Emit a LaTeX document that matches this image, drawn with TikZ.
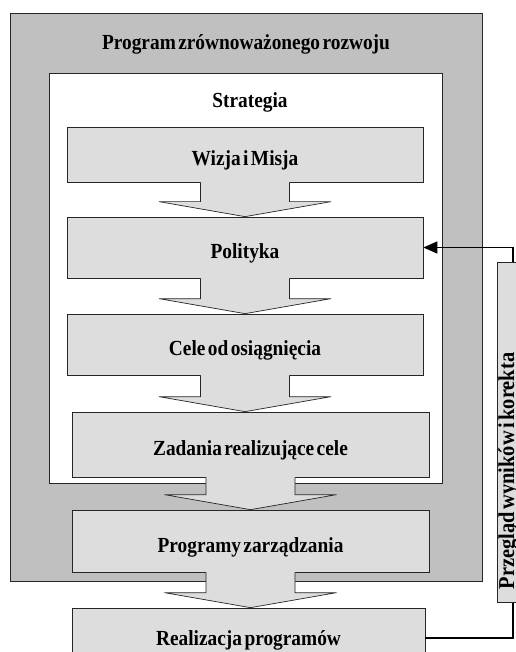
\documentclass[tikz,border=0pt]{standalone}
\usepackage{fontspec}
\setmainfont{Liberation Serif}[WordSpace=0.5, FakeStretch=0.9]
\usetikzlibrary{arrows.meta,calc}

\definecolor{ciemny}{HTML}{C0C0C0}
\definecolor{jasny}{HTML}{DDDDDD}

\tikzset{
	kontur/.style={draw=black!85, line width=0.7pt},
	napis/.style={font=\bfseries\fontsize{21.5}{22}\selectfont, inner sep=0pt},
	etap/.style={kontur, fill=jasny, napis, minimum width=356pt, text height=22pt, text depth=0pt},
}

% block arrow from the bottom of #1 to the top of #2
\newcommand{\strzalka}[2]{%
	\fill[jasny] let \p1=(#1.south), \p2=(#2.north) in
		(\x1-44.5pt,\y1+1pt) -- (\x1-44.5pt,\y2+15pt) -- (\x1-86pt,\y2+15pt) -- (\x1,\y2)
		-- (\x1+86pt,\y2+15pt) -- (\x1+44.5pt,\y2+15pt) -- (\x1+44.5pt,\y1+1pt) -- cycle;
	\draw[kontur] let \p1=(#1.south), \p2=(#2.north) in
		(\x1-44.5pt,\y1) -- (\x1-44.5pt,\y2+15pt) -- (\x1-86pt,\y2+15pt) -- (\x1,\y2)
		-- (\x1+86pt,\y2+15pt) -- (\x1+44.5pt,\y2+15pt) -- (\x1+44.5pt,\y1);
}

\begin{document}
\begin{tikzpicture}[x=1pt, y=-1pt]
	\useasboundingbox (0,0) rectangle (515,652);

	% outer frame
	\filldraw[kontur, fill=ciemny] (10,13) rectangle (482,581);
	\node[napis, anchor=base] (program) at (246,50) {Program zrównoważonego rozwoju};

	% strategy frame
	\filldraw[kontur, fill=white] (49,73) rectangle (442,483);
	\node[napis, anchor=base] (strategia) at (250,108) {Strategia};

	% stages
	\node[etap, minimum height=55pt] (wizja) at (245,154.5) {Wizja i Misja};
	\node[etap, minimum height=61pt] (pol) at (245,247.5) {Polityka};
	\node[etap, minimum height=61pt] (cele) at (245,344.5) {Cele od osiągnięcia};
	\node[etap, minimum width=357pt, minimum height=65pt] (zad) at (250.5,444.5) {Zadania realizujące cele};
	\node[etap, minimum width=357pt, minimum height=62pt] (prog) at (250.5,541) {Programy zarządzania};
	\node[etap, minimum width=353pt, minimum height=60pt, text height=14pt] (real) at (248.5,638) {Realizacja programów};

	% arrows between stages
	\foreach \a/\b in {wizja/pol, pol/cele, cele/zad, zad/prog, prog/real}
		\strzalka{\a}{\b};

	% feedback loop
	\coordinate (prawa) at (513,0);
	\draw[line width=1.6pt, -{Triangle[length=14pt,width=12pt]}]
		(real.east) -- (real.east -| prawa) -- (pol.east -| prawa) -- (pol.east);
	\filldraw[kontur, fill=jasny] (497,262) rectangle (545,602);
	\node[napis, font=\bfseries\fontsize{22.7}{23}\selectfont, rotate=90, anchor=base] (przeglad) at (514,471) {Przegląd wyników i korekta};
\end{tikzpicture}
\end{document}
